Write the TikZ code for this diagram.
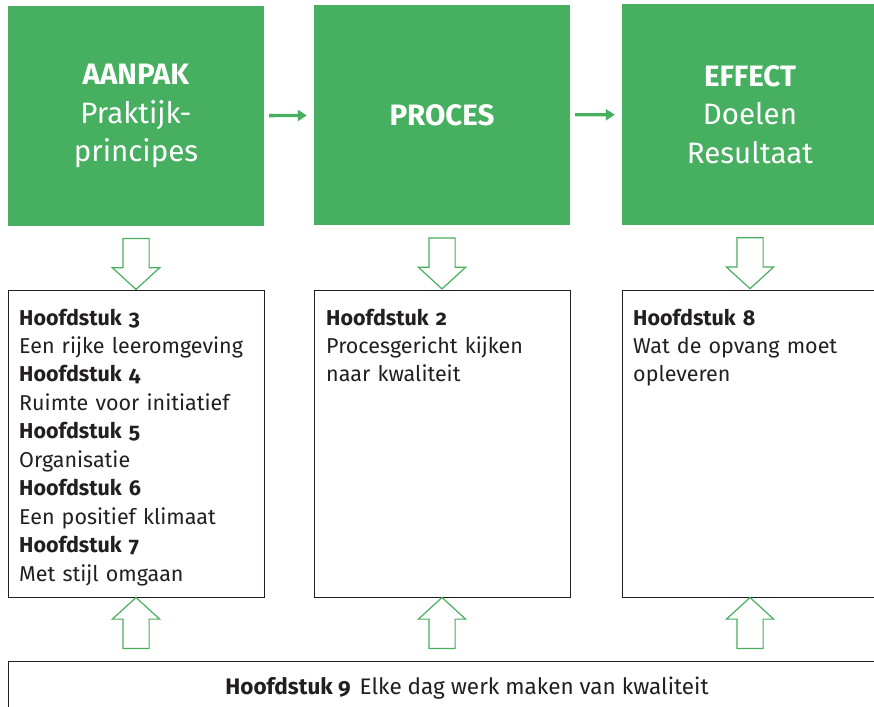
\documentclass[tikz,border=0pt]{standalone}
\usepackage{fontspec}
\setmainfont{Fira Sans}[Numbers=OldStyle]
\usetikzlibrary{calc,shapes.arrows,arrows.meta}

\definecolor{kgreen}{RGB}{71,175,96}
\definecolor{ktext}{RGB}{35,31,32}

\tikzset{
    greenbox/.style={fill=kgreen, minimum width=256pt, minimum height=220pt, inner sep=0pt,
                     text=white, align=center, font=\fontsize{29.5}{38.5}\selectfont},
    chapbox/.style={draw=ktext, line width=0.8pt, fill=white, minimum width=256pt, minimum height=307pt, inner sep=0pt},
    chaptext/.style={text=ktext, align=left, text width=250pt, inner sep=0pt, anchor=north west,
                     font=\fontsize{21.5}{28.45}\selectfont},
    flow/.style={-{Triangle[length=9pt,width=11pt]}, kgreen, line width=3.4pt, shorten <=5pt, shorten >=7pt},
    feedarrow/.style={single arrow, draw=kgreen, line width=1.2pt, fill=white, inner sep=12.5pt,
                      minimum height=51pt, single arrow head extend=10.5pt, single arrow head indent=0pt,
                      single arrow tip angle=95}
}

\begin{document}
\begin{tikzpicture}[x=1pt, y=-1pt]
        \useasboundingbox (0,0) rectangle (874,706);
        \clip (0,0) rectangle (874,706);

        % top row
        \node[greenbox] (aanpak) at (136,116) {\textbf{AANPAK}\\Praktijk-\\principes};
        \node[greenbox] (proces) at (442,115) {\textbf{PROCES}};
        \node[greenbox] (effect) at (750,114.5) {\textbf{EFFECT}\\Doelen\\Resultaat};

        \draw[flow] (aanpak) -- (proces);
        \draw[flow] (proces) -- (effect);

        % chapters
        \node[chapbox] (h1) at (136,443.5) {};
        \node[chapbox] (h2) at (442,443.5) {};
        \node[chapbox] (h3) at (750,443.5) {};

        \node[chaptext] (t1) at (19,308.5) {\textbf{Hoofdstuk 3}\\Een rijke leeromgeving\\
            \textbf{Hoofdstuk 4}\\Ruimte voor initiatief\\\textbf{Hoofdstuk 5}\\Organisatie\\
            \textbf{Hoofdstuk 6}\\Een positief klimaat\\\textbf{Hoofdstuk 7}\\Met stijl omgaan};
        \node[chaptext] (t2) at (326,308.5) {\textbf{Hoofdstuk 2}\\Procesgericht kijken\\naar kwaliteit};
        \node[chaptext] (t3) at (633,308.5) {\textbf{Hoofdstuk 8}\\Wat de opvang moet\\opleveren};

        \node[chapbox, minimum width=918pt, minimum height=60pt] (basis) at (467,691) {};
        \node[text=ktext, font=\fontsize{22.5}{24}\selectfont] (t9) at (467,688)
            {\textbf{Hoofdstuk 9}\hspace{0.4em}Elke dag werk maken van kwaliteit};

        % hollow arrows
        \foreach \kop/\hfd in {aanpak/h1, proces/h2, effect/h3} {
            \node[feedarrow, rotate=-90] at ($(\kop.south)!0.5!(\hfd.north)$) {};
            \node[feedarrow, rotate=90] at ($(\hfd.south)!0.5!(\hfd.south |- basis.north)$) {};
        }
\end{tikzpicture}
\end{document}
